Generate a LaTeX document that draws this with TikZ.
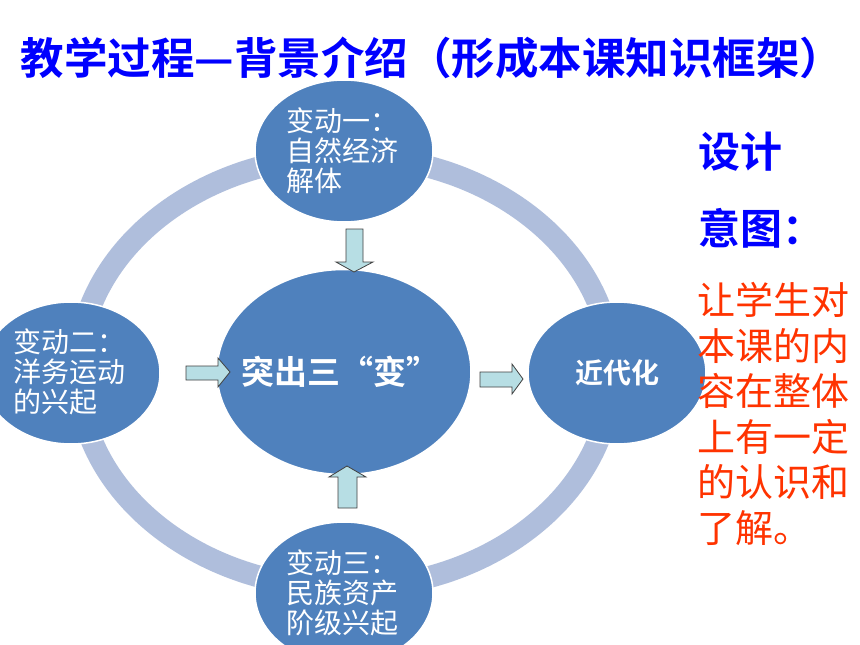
\documentclass[tikz,border=0pt]{standalone}
\usepackage{fontspec}
\setmainfont{Noto Sans CJK SC}[BoldFont={Noto Sans CJK SC Bold}]
\usetikzlibrary{shapes.geometric}
\definecolor{nodeblue}{RGB}{79,129,189}
\definecolor{ringblue}{RGB}{175,190,220}
\definecolor{arrowfill}{RGB}{183,222,228}
\definecolor{titleblue}{RGB}{0,0,255}
\definecolor{notered}{RGB}{255,51,0}
\tikzset{
  ell/.style={ellipse, fill=nodeblue, draw=white, line width=1.5pt, inner sep=0pt},
  smallell/.style={ell, minimum width=178pt, minimum height=142pt},
  elltext/.style={text=white, align=left, inner sep=0pt, font=\fontsize{28}{30}\selectfont},
  blockarrow/.style={fill=arrowfill, draw=black!75, line width=0.8pt, line join=miter},
  ring/.style={draw=ringblue, line width=22pt},
}
\begin{document}
\begin{tikzpicture}[x=1pt, y=-1pt]
\useasboundingbox (0,0) rectangle (860,645);
\clip (0,0) rectangle (860,645);
\fill[white] (0,0) rectangle (860,645);
% title
\node[text=titleblue, font=\fontsize{43.5}{48}\selectfont\bfseries, inner sep=0pt] (title) at (432,58) {教学过程—背景介绍（形成本课知识框架）};
% ring
\draw[ring] (345,372) ellipse [x radius=267pt, y radius=216pt];
% ellipses
\node[smallell] (e1) at (344,151) {};
\node[smallell] (e2) at (71,373) {};
\node[smallell] (e3) at (344,593) {};
\node[smallell] (e4) at (617,373) {};
\node[ell, minimum width=254pt, minimum height=205pt] (c) at (344,372) {};
% texts
\node[elltext] (t1) at (342,151) {变动一：\\自然经济\\解体};
\node[elltext] (t2) at (69,372) {变动二：\\洋务运动\\的兴起};
\node[elltext] (t3) at (342,593) {变动三：\\民族资产\\阶级兴起};
\node[text=white, inner sep=0pt, font=\fontsize{28}{30}\selectfont\bfseries] (t4) at (e4) {近代化};
\node[text=white, inner sep=0pt, font=\fontsize{33}{36}\selectfont\bfseries] (tc) at (340,372) {突出三“变”};
% block arrows
\draw[blockarrow] (346,229) -- (363,229) -- (363,262) -- (373,262) -- (354,272) -- (336,262) -- (346,262) -- cycle;
\draw[blockarrow] (338,508) -- (357,508) -- (357,477) -- (366,477) -- (347,466) -- (329,477) -- (338,477) -- cycle;
\draw[blockarrow] (186,366) -- (218,366) -- (218,358) -- (230,372) -- (218,387) -- (218,380) -- (186,380) -- cycle;
\draw[blockarrow] (480,372) -- (512,372) -- (512,364) -- (523,379) -- (512,394) -- (512,387) -- (480,387) -- cycle;
% side notes
\node[text=titleblue, font=\fontsize{42}{45}\selectfont\bfseries, anchor=west, inner sep=0pt] (d1) at (698,152) {设计};
\node[text=titleblue, font=\fontsize{42}{45}\selectfont\bfseries, anchor=west, inner sep=0pt] (d2) at (698,228) {意图：};
\node[text=notered, font=\fontsize{38}{45.6}\selectfont, anchor=west, align=left, inner sep=0pt] (note) at (697,414) {让学生对\\本课的内\\容在整体\\上有一定\\的认识和\\了解。};
\end{tikzpicture}
\end{document}
